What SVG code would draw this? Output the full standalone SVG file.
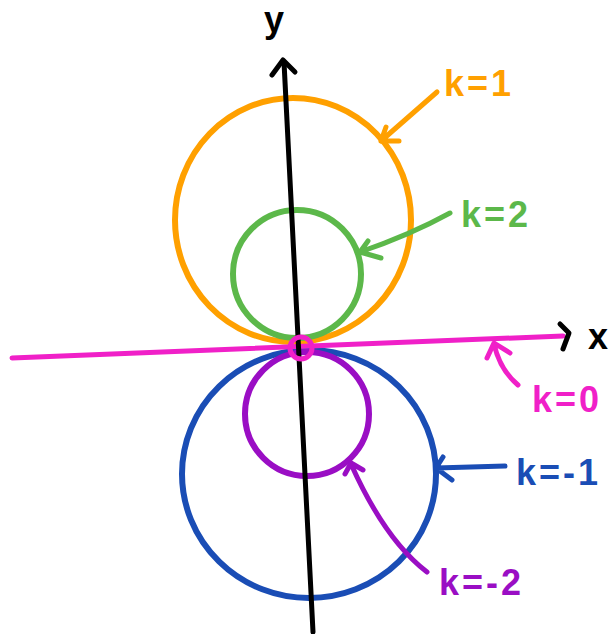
<svg xmlns="http://www.w3.org/2000/svg" width="610" height="634" viewBox="0 0 610 634">
<style>
.s{fill:none;stroke-width:5;stroke-linecap:round;stroke-linejoin:round}
.c{stroke-width:6}
.t{font-family:"Liberation Sans",Arial,sans-serif;font-size:36px;font-weight:bold;letter-spacing:3px}
.or{stroke:#FFA000}.gr{stroke:#5CB84A}.mg{stroke:#F020C8}.bl{stroke:#1A4DB5}.pu{stroke:#9A0EC4}.bk{stroke:#000}
</style>
<rect width="610" height="634" fill="#fff"/>
<g id="curve-k1"><ellipse class="s c or" cx="293" cy="220" rx="118" ry="122"/></g>
<g id="curve-k2"><ellipse class="s c gr" cx="297" cy="274" rx="64" ry="64"/></g>
<g id="curve-k-1"><ellipse class="s c bl" cx="309" cy="474" rx="127" ry="124"/></g>
<g id="curve-k-2"><ellipse class="s c pu" cx="307" cy="414" rx="62" ry="62"/></g>
<g id="x-axis">
<path class="s mg" d="M12 358 L563 336"/>
<path class="s bk" d="M560 324 L569 333 L563 349"/>
<text class="t" x="588" y="349" fill="#000">x</text>
</g>
<g id="y-axis">
<path class="s bk" d="M284 62 L313 632"/>
<path class="s bk" d="M272 75 L283 60 L295 72"/>
<text class="t" x="264" y="32" fill="#000" font-size="40">y</text>
</g>
<g id="origin"><circle class="s mg" cx="301" cy="348" r="11" fill="#fff"/></g>
<g id="connectors">
<path class="s or" d="M437 92 L381 141 M386 127 L381 141 L399 141"/>
<path class="s gr" d="M450 213 Q410 235 360 252 M368 241 L360 252 L381 258"/>
<path class="s mg" d="M518 385 Q500 370 494 344 M487 358 L494 343 L510 353"/>
<path class="s bl" d="M505 466 L436 468 M443 457 L436 468 L452 480"/>
<path class="s pu" d="M427 572 Q385 540 351 464 M345 474 L351 463 L363 470"/>
</g>
<g id="labels">
<text class="t" x="444" y="96" fill="#FFA000">k=1</text>
<text class="t" x="461" y="227" fill="#5CB84A">k=2</text>
<text class="t" x="532" y="412" fill="#F020C8">k=0</text>
<text class="t" x="516" y="485" fill="#1A4DB5">k=-1</text>
<text class="t" x="439" y="595" fill="#9A0EC4">k=-2</text>
</g>
</svg>
